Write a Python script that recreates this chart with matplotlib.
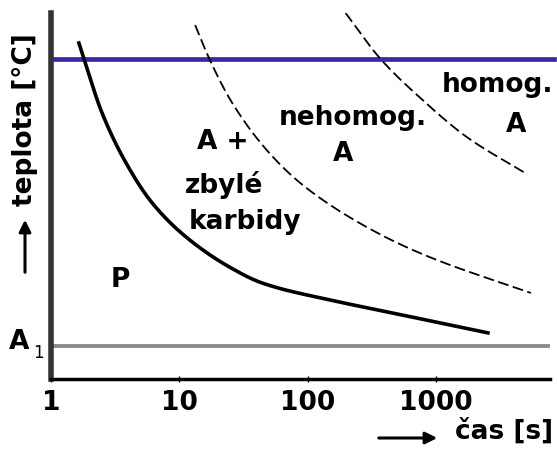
import numpy as np
import matplotlib.pyplot as plt
from matplotlib.patches import FancyArrowPatch

# (cas v s, teplota v relativnich jednotkach 0-100)
pearlite_t = [1.65, 1.81, 2.5, 3.85, 6.15, 11.3, 24.6, 44.5, 149, 350, 2550]
pearlite_y = [91.8, 87.4, 72.7, 59.0, 48.1, 38.8, 30.6, 26.2, 21.6, 18.9, 12.6]

carbide_t = [13.3, 17.2, 25.9, 50.5, 98, 365, 897, 5520]
carbide_y = [96.7, 87.4, 75.4, 61.7, 52.2, 39.6, 33.3, 23.5]

homog_t = [198, 372, 791, 1746, 4960]
homog_y = [100, 87.4, 76.2, 66.1, 56.3]

ac_level = 87.4
a1_level = 9.0

tick_pos = [1, 10, 100, 1000]
tick_labels = ['1', '10', '100', '1000']

labels = [
    ('homog.', 3050, 80.3),
    ('A', 4220, 69.4),
    ('nehomog.', 225, 71.3),
    ('A', 188, 61.5),
    ('A +', 22, 64.8),
    ('zbylé', 22.5, 53),
    ('karbidy', 32.8, 42.9),
    ('P', 3.46, 27),
]

plt.rcParams['font.family'] = ['DejaVu Sans']
FS = 19


def pchip(x, y, xs):
    x = np.asarray(x, float)
    y = np.asarray(y, float)
    h = np.diff(x)
    d = np.diff(y) / h
    m = np.zeros_like(y)
    for k in range(1, len(x) - 1):
        if d[k - 1] * d[k] > 0:
            w1 = 2 * h[k] + h[k - 1]
            w2 = h[k] + 2 * h[k - 1]
            m[k] = (w1 + w2) / (w1 / d[k - 1] + w2 / d[k])
    m[0] = d[0]
    m[-1] = d[-1]
    i = np.clip(np.searchsorted(x, xs) - 1, 0, len(h) - 1)
    s = (xs - x[i]) / h[i]
    h00 = 2 * s**3 - 3 * s**2 + 1
    h10 = s**3 - 2 * s**2 + s
    h01 = -2 * s**3 + 3 * s**2
    h11 = s**3 - s**2
    return h00 * y[i] + h10 * h[i] * m[i] + h01 * y[i + 1] + h11 * h[i] * m[i + 1]


def curve(t, y, n=300):
    lt = np.log10(t)
    xs = np.linspace(lt[0], lt[-1], n)
    return 10 ** xs, pchip(lt, y, xs)


fig = plt.figure(figsize=(5.57, 4.5), dpi=100)
ax = fig.add_axes([51 / 557, 1 - 379 / 450, 499 / 557, 366 / 450])
ax.set_xscale('log')
ax.set_xlim(1, 10 ** (498 / 128))
ax.set_ylim(0, 100)

ax.axhline(ac_level, color='#3a2aa8', lw=3.4, xmax=1.008, clip_on=False)
ax.axhline(a1_level, color='#8c8c8c', lw=2.8)

t, y = curve(pearlite_t, pearlite_y)
ax.plot(t, y, color='black', lw=2.6)
t, y = curve(carbide_t, carbide_y)
ax.plot(t, y, color='black', lw=1.3, dashes=(6, 2.5))
t, y = curve(homog_t, homog_y)
ax.plot(t, y, color='black', lw=1.3, dashes=(6, 2.5))

for txt, x, yy in labels:
    ax.text(x, yy, txt, fontsize=FS, fontweight='bold', ha='center', va='center')

ax.spines['top'].set_visible(False)
ax.spines['right'].set_visible(False)
ax.spines['left'].set_color('#333333')
ax.spines['left'].set_linewidth(4)
ax.spines['bottom'].set_linewidth(2.5)
ax.set_yticks([])
ax.set_xticks(tick_pos)
ax.set_xticklabels(tick_labels, fontsize=FS, fontweight='bold')
ax.minorticks_off()
ax.tick_params(axis='x', direction='inout', length=4, width=1, pad=6)

# A1
fig.text(9 / 557, 1 - 342 / 450, 'A', fontsize=FS, fontweight='bold', ha='left', va='center')
fig.text(33 / 557, 1 - 353 / 450, '1', fontsize=12, ha='left', va='center')

# popisky os se sipkami
fig.text(25 / 557, 1 - 120 / 450, 'teplota [°C]', fontsize=FS, fontweight='bold',
         rotation=90, ha='center', va='center')
fig.text(504 / 557, 1 - 431 / 450, 'čas [s]', fontsize=FS, fontweight='bold',
         ha='center', va='center')
fig.add_artist(FancyArrowPatch(
    (25 / 557, 1 - 275 / 450), (25 / 557, 1 - 217 / 450), transform=fig.transFigure,
    arrowstyle='-|>,head_length=7,head_width=3.5', lw=2.2, color='black'))
fig.add_artist(FancyArrowPatch(
    (376 / 557, 1 - 438 / 450), (440 / 557, 1 - 438 / 450), transform=fig.transFigure,
    arrowstyle='-|>,head_length=7,head_width=3.5', lw=2.2, color='black'))

fig.savefig('out.png', dpi=100)
